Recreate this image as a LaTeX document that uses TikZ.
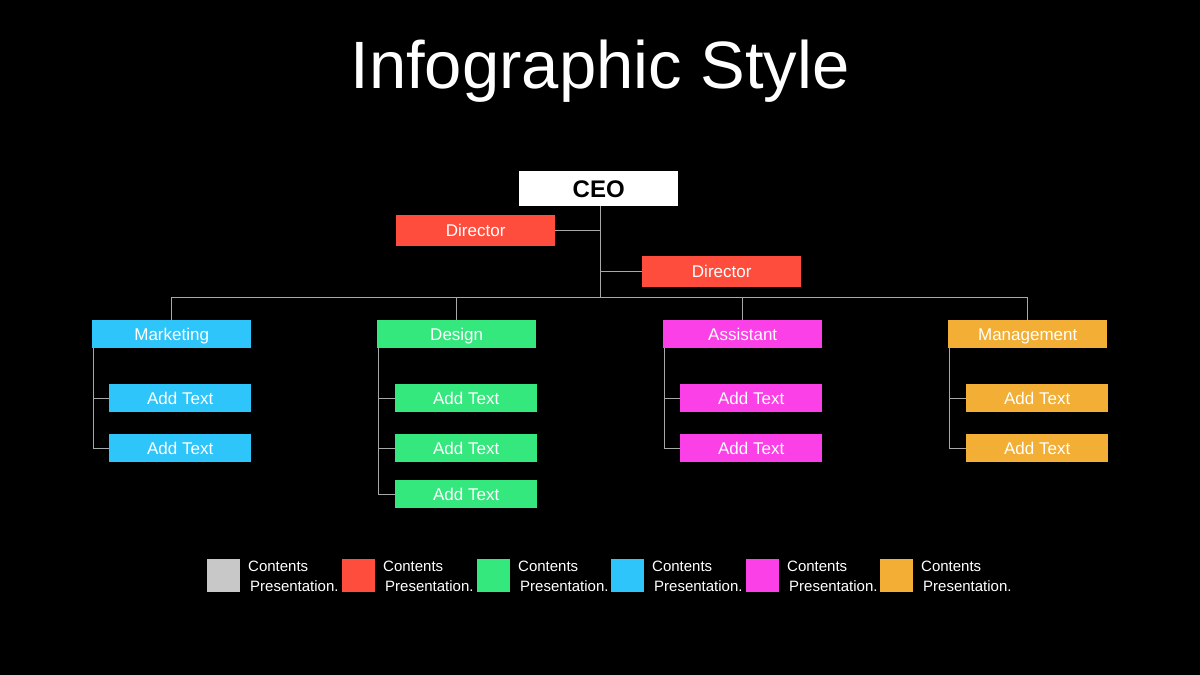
\documentclass[tikz,border=0pt]{standalone}
\usepackage{fontspec}
\setmainfont{Liberation Sans}
\definecolor{cred}{HTML}{FF4D3D}
\definecolor{ccyan}{HTML}{2EC5FA}
\definecolor{cgreen}{HTML}{35E87D}
\definecolor{cmag}{HTML}{FC40E8}
\definecolor{corange}{HTML}{F2AE35}
\definecolor{cgrey}{HTML}{C8C8C8}
\definecolor{cline}{HTML}{A8A8A8}
\begin{document}
\begin{tikzpicture}[x=1pt,y=-1pt,
  box/.style={anchor=north west,inner sep=0pt,text=white,font=\fontsize{17}{20}\selectfont,text height=12.2pt,text depth=0pt},
  conn/.style={draw=cline,line width=1pt},
  legsq/.style={anchor=north west,inner sep=0pt,minimum width=33pt,minimum height=33pt},
  legtxt/.style={anchor=west,inner sep=0pt,text=white,font=\fontsize{15}{18}\selectfont,text height=10.8pt,text depth=0pt}]
\fill[black] (0,0) rectangle (1200,675);
\useasboundingbox (0,0) rectangle (1200,675);
\node[anchor=base,inner sep=0pt,text=white,font=\fontsize{67}{76}\selectfont] (title) at (600,88) {Infographic Style};
% CEO and directors
\node[box,fill=white,text=black,minimum width=159pt,minimum height=35pt,font=\fontsize{24}{28}\selectfont\bfseries,text height=17.3pt] (ceo) at (519,171) {CEO};
\node[box,fill=cred,minimum width=159pt,minimum height=31pt] (dir1) at (396,215) {Director};
\node[box,fill=cred,minimum width=159pt,minimum height=31pt] (dir2) at (642,256) {Director};
% departments
\node[box,fill=ccyan,minimum width=159pt,minimum height=28pt] (mkt) at (92,320) {Marketing};
\node[box,fill=cgreen,minimum width=159pt,minimum height=28pt] (des) at (377,320) {Design};
\node[box,fill=cmag,minimum width=159pt,minimum height=28pt] (ast) at (663,320) {Assistant};
\node[box,fill=corange,minimum width=159pt,minimum height=28pt] (mgt) at (948,320) {Management};
% sub items
\node[box,fill=ccyan,minimum width=142pt,minimum height=28pt] (m1) at (109,384) {Add Text};
\node[box,fill=ccyan,minimum width=142pt,minimum height=28pt] (m2) at (109,434) {Add Text};
\node[box,fill=cgreen,minimum width=142pt,minimum height=28pt] (d1) at (395,384) {Add Text};
\node[box,fill=cgreen,minimum width=142pt,minimum height=28pt] (d2) at (395,434) {Add Text};
\node[box,fill=cgreen,minimum width=142pt,minimum height=28pt] (d3) at (395,480) {Add Text};
\node[box,fill=cmag,minimum width=142pt,minimum height=28pt] (a1) at (680,384) {Add Text};
\node[box,fill=cmag,minimum width=142pt,minimum height=28pt] (a2) at (680,434) {Add Text};
\node[box,fill=corange,minimum width=142pt,minimum height=28pt] (g1) at (966,384) {Add Text};
\node[box,fill=corange,minimum width=142pt,minimum height=28pt] (g2) at (966,434) {Add Text};
% connectors
\coordinate (bar) at (600,297);
\draw[conn] (ceo.south -| bar) -- (bar);
\draw[conn] (dir1.east) -- (dir1.east -| bar);
\draw[conn] (dir2.west) -- (dir2.west -| bar);
\draw[conn] (mkt.north) -- (mkt.north |- bar) -- (mgt.north |- bar) -- (mgt.north);
\draw[conn] (des.north) -- (des.north |- bar);
\draw[conn] (ast.north) -- (ast.north |- bar);
\foreach \p in {mkt,des,ast,mgt}{
  \coordinate (\p sp) at ([xshift=1.5pt]\p.south west);
}
\foreach \p/\a/\b in {mkt/m1/m2, ast/a1/a2, mgt/g1/g2, des/d1/d3}{
  \draw[conn] (\p sp) |- (\b.west);
  \draw[conn] (\a.west) -- (\a.west -| \p sp);
}
\draw[conn] (d2.west) -- (d2.west -| dessp);
% legend
\foreach \i/\c/\x in {1/cgrey/207,2/cred/342,3/cgreen/477,4/ccyan/611,5/cmag/746,6/corange/880}{
  \node[legsq,fill=\c] (sq\i) at (\x,559) {};
  \node[legtxt] (lc\i) at (\x+41,566) {Contents};
  \node[legtxt] (lp\i) at (\x+43,586) {Presentation.};
}
\end{tikzpicture}
\end{document}
